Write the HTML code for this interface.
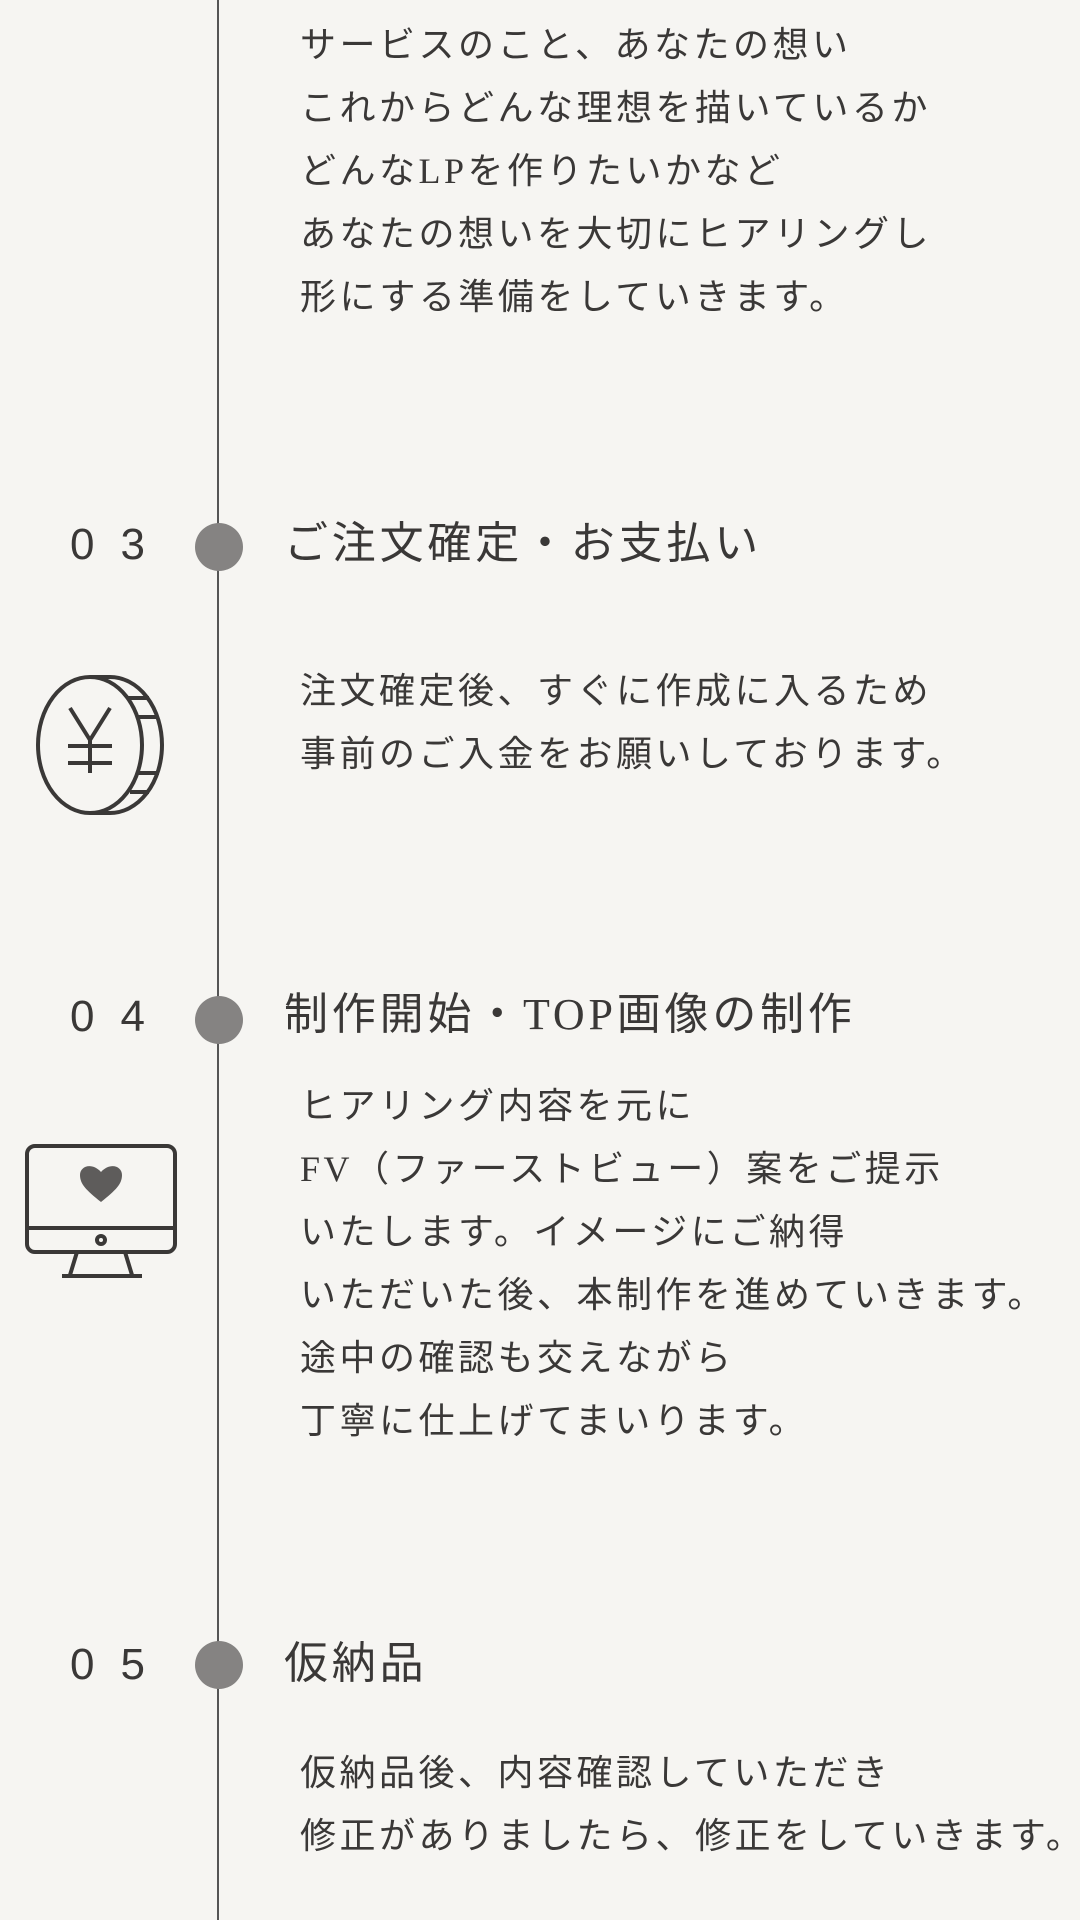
<!DOCTYPE html>
<html><head><meta charset="utf-8">
<style>
html,body{margin:0;padding:0;}
body{width:1080px;height:1920px;background:#f6f5f2;position:relative;overflow:hidden;
font-family:"Liberation Serif","Noto Sans CJK JP",sans-serif;color:#3a3837;}
.line{position:absolute;left:217px;top:0;width:2px;height:1920px;background:#555;}
.dot{position:absolute;width:48px;height:48px;border-radius:50%;background:#858382;left:195px;}
.num{position:absolute;left:70px;width:120px;font-family:"Liberation Sans",sans-serif;font-size:44px;letter-spacing:26px;line-height:60px;}
.title{position:absolute;left:284px;font-size:44px;letter-spacing:3.8px;line-height:60px;white-space:nowrap;}
.body{position:absolute;left:300px;font-size:36px;letter-spacing:3.5px;line-height:63px;white-space:nowrap;}
</style></head><body>
<div class="line"></div>

<div class="body" style="top:14px">サービスのこと、あなたの想い<br>これからどんな理想を描いているか<br>どんなLPを作りたいかなど<br>あなたの想いを大切にヒアリングし<br>形にする準備をしていきます。</div>

<div class="num" style="top:515px">03</div>
<div class="dot" style="top:523px"></div>
<div class="title" style="top:514px">ご注文確定・お支払い</div>
<div class="body" style="top:660px">注文確定後、すぐに作成に入るため<br>事前のご入金をお願いしております。</div>
<svg style="position:absolute;left:30px;top:670px" width="140" height="150" viewBox="0 0 140 150">
<g fill="none" stroke="#3a3837" stroke-width="4">
<ellipse cx="60" cy="75" rx="52" ry="68"/>
<path d="M60 7 L80 7 A52 68 0 0 1 80 143 L60 143"/>
<path d="M98 28h21 M106 47h21 M108 103h21 M100 122h19"/>
<path d="M40 38 L60 70 L80 38 M60 70 V103 M38 76h44 M38 93h44"/>
</g></svg>

<div class="num" style="top:987px">04</div>
<div class="dot" style="top:996px"></div>
<div class="title" style="top:985px">制作開始・TOP画像の制作</div>
<div class="body" style="top:1075px">ヒアリング内容を元に<br>FV（ファーストビュー）案をご提示<br>いたします。イメージにご納得<br>いただいた後、本制作を進めていきます。<br>途中の確認も交えながら<br>丁寧に仕上げてまいります。</div>
<svg style="position:absolute;left:24px;top:1142px" width="160" height="140" viewBox="0 0 160 140">
<g fill="none" stroke="#3a3837" stroke-width="4">
<rect x="3" y="4" width="148" height="106" rx="8"/>
<path d="M3 86h148"/>
<circle cx="77" cy="98" r="4"/>
<path d="M53 110 L46 133 M101 110 L108 133 M38 134h80"/>
</g>
<path d="M77 60 C62 48 56 42 56 33 C56 24 68 20 77 30 C86 20 98 24 98 33 C98 42 92 48 77 60Z" fill="#5e5c5b"/>
</svg>

<div class="num" style="top:1635px">05</div>
<div class="dot" style="top:1641px"></div>
<div class="title" style="top:1634px">仮納品</div>
<div class="body" style="top:1742px">仮納品後、内容確認していただき<br>修正がありましたら、修正をしていきます。</div>
</body></html>
